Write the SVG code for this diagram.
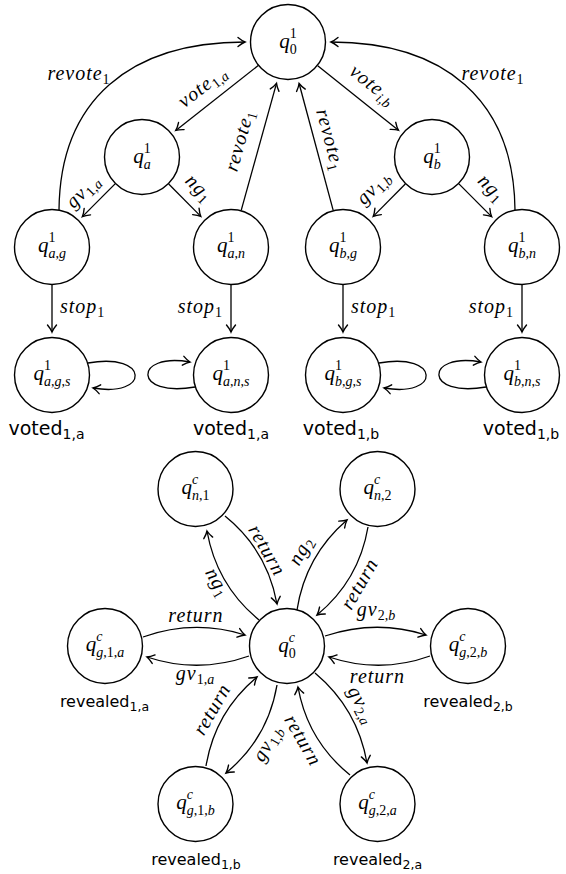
<svg xmlns="http://www.w3.org/2000/svg" width="566" height="874" viewBox="0 0 566 874">
<defs>
<marker id="ar" markerUnits="userSpaceOnUse" viewBox="-9 -6 11 12" refX="0" refY="0" markerWidth="11" markerHeight="12" orient="auto" overflow="visible">
<path d="M-7,-4.5 C-4,-2 -1.5,-0.6 0,0 C-1.5,0.6 -4,2 -7,4.5" fill="none" stroke="#000" stroke-width="1.4" stroke-linecap="round"/>
</marker>
<style>
.n circle{fill:#fff;stroke:#000;stroke-width:1.4}
.e{fill:none;stroke:#000;stroke-width:1.3;marker-end:url(#ar)}
.q{font-family:"Liberation Serif",serif;font-style:italic;font-size:21px;fill:#000}
.sp{font-size:14px;font-style:normal}
.sc{font-size:14px}
.sb{font-size:14px}
.up{font-style:normal}
.m{font-family:"Liberation Serif",serif;font-style:italic;font-size:20px;letter-spacing:1px;fill:#000}
.ms{font-size:14px;letter-spacing:0}
.v{font-family:"DejaVu Sans",sans-serif;font-size:19px;fill:#000}
.r{font-family:"DejaVu Sans",sans-serif;font-size:16px;fill:#000}
.vs{font-size:14px}
.rs{font-size:12.5px}
</style>
</defs>
<rect width="566" height="874" fill="#fff"/>

<g id="edges">
<path class="e" d="M258.2,65.5 L175.8,130.4"/>
<path class="e" d="M115.1,183.9 L82.4,216.6"/>
<path class="e" d="M168.7,184 L200.8,216.4"/>
<path class="e" d="M241.2,210.4 L276.5,83.4"/>
<path class="e" d="M317.7,65.7 L398.4,130.2"/>
<path class="e" d="M405.3,184 L373.2,216.4"/>
<path class="e" d="M458.9,183.9 L491.6,216.6"/>
<path class="e" d="M333.2,210.3 L299.1,83.5"/>
<path class="e" d="M59,210 C60,100 130,42 245,42"/>
<path class="e" d="M515,210 C514,100 444,42 331,42"/>
<path class="e" d="M52,284.5 L52,332"/>
<path class="e" d="M231,284.5 L231,332"/>
<path class="e" d="M343,284.5 L343,332"/>
<path class="e" d="M522,284.5 L522,332"/>
<path class="e" d="M88,363 C150,352 150,398 93,388"/>
<path class="e" d="M195,387 C133,398 133,352 190,362"/>
<path class="e" d="M379,363 C441,352 441,398 384,388"/>
<path class="e" d="M486,387 C424,398 424,352 481,362"/>

<path class="e" d="M143,637 Q194,619 245,635"/>
<path class="e" d="M249,656 Q198,674 147,657"/>
<path class="e" d="M325,636 Q376,619 426,635"/>
<path class="e" d="M430,656 Q380,674 329,657"/>
<path class="e" d="M259,620 Q216.6,585.1 207,531"/>
<path class="e" d="M225,516 Q267.4,550.3 277,604"/>
<path class="e" d="M297,610 Q305.4,555.8 347,520"/>
<path class="e" d="M368,527 Q358.9,580.5 317,615"/>
<path class="e" d="M206,766 Q215,712 257,677"/>
<path class="e" d="M277,685 Q267.9,738.5 226,773"/>
<path class="e" d="M350,775 Q307.6,740.7 298,687"/>
<path class="e" d="M315,673 Q357.4,708.5 367,763"/>
</g>

<g id="edge-labels">
<text class="m" x="78.5" y="80" text-anchor="middle">revote<tspan class="ms up" dy="4">1</tspan></text>
<text class="m" x="492.5" y="80" text-anchor="middle">revote<tspan class="ms up" dy="4">1</tspan></text>
<text class="m" transform="translate(203.5 88.5) rotate(-38)" x="0" y="4" text-anchor="middle">vote<tspan class="ms" dy="4"><tspan class="up">1,</tspan>a</tspan></text>
<text class="m" transform="translate(371 86.5) rotate(38.6)" x="0" y="4" text-anchor="middle">vote<tspan class="ms" dy="4">i<tspan class="up">,</tspan>b</tspan></text>
<text class="m" transform="translate(85 193.5) rotate(-45)" x="0" y="3" text-anchor="middle">gv<tspan class="ms" dy="4"><tspan class="up">1,</tspan>a</tspan></text>
<text class="m" transform="translate(196.5 190) rotate(45)" x="0" y="3" text-anchor="middle">ng<tspan class="ms up" dy="4">1</tspan></text>
<text class="m" transform="translate(241.5 141.5) rotate(-74.5)" x="0" y="4" text-anchor="middle">revote<tspan class="ms up" dy="4">1</tspan></text>
<text class="m" transform="translate(328 140) rotate(75)" x="0" y="4" text-anchor="middle">revote<tspan class="ms up" dy="4">1</tspan></text>
<text class="m" transform="translate(375.5 190) rotate(-45)" x="0" y="3" text-anchor="middle">gv<tspan class="ms" dy="4"><tspan class="up">1,</tspan>b</tspan></text>
<text class="m" transform="translate(489 190) rotate(45)" x="0" y="3" text-anchor="middle">ng<tspan class="ms up" dy="4">1</tspan></text>
<text class="m" x="60" y="313">stop<tspan class="ms up" dy="4">1</tspan></text>
<text class="m" x="222" y="313" text-anchor="end">stop<tspan class="ms up" dy="4">1</tspan></text>
<text class="m" x="351" y="313">stop<tspan class="ms up" dy="4">1</tspan></text>
<text class="m" x="513" y="313" text-anchor="end">stop<tspan class="ms up" dy="4">1</tspan></text>

<text class="m" x="196" y="622" text-anchor="middle">return</text>
<text class="m" x="195" y="680" text-anchor="middle">gv<tspan class="ms" dy="4"><tspan class="up">1,</tspan>a</tspan></text>
<text class="m" x="376" y="616" text-anchor="middle">gv<tspan class="ms" dy="4"><tspan class="up">2,</tspan>b</tspan></text>
<text class="m" x="377.5" y="683" text-anchor="middle">return</text>
<text class="m" transform="translate(214.5 583.5) rotate(60)" x="0" y="3" text-anchor="middle">ng<tspan class="ms up" dy="4">1</tspan></text>
<text class="m" transform="translate(265 551.5) rotate(60)" x="0" y="4" text-anchor="middle">return</text>
<text class="m" transform="translate(303.5 552.5) rotate(-61)" x="0" y="3" text-anchor="middle">ng<tspan class="ms up" dy="4">2</tspan></text>
<text class="m" transform="translate(361.5 585) rotate(-60)" x="0" y="4" text-anchor="middle">return</text>
<text class="m" transform="translate(214 710.5) rotate(-60)" x="0" y="4" text-anchor="middle">return</text>
<text class="m" transform="translate(270 745) rotate(-60)" x="0" y="3" text-anchor="middle">gv<tspan class="ms" dy="4"><tspan class="up">1,</tspan>b</tspan></text>
<text class="m" transform="translate(301 741.5) rotate(60)" x="0" y="4" text-anchor="middle">return</text>
<text class="m" transform="translate(359 706) rotate(62)" x="0" y="3" text-anchor="middle">gv<tspan class="ms" dy="4"><tspan class="up">2,</tspan>a</tspan></text>
</g>

<g id="q0_1" class="n"><circle cx="288" cy="42" r="37.5"/><text class="q" x="288" y="48" text-anchor="middle">q<tspan class="sp" dy="-10">1</tspan><tspan class="sb up" dx="-7" dy="16">0</tspan></text></g>
<g id="qa_1" class="n"><circle cx="142" cy="157" r="37.5"/><text class="q" x="142" y="163" text-anchor="middle">q<tspan class="sp" dy="-10">1</tspan><tspan class="sb" dx="-7" dy="16">a</tspan></text></g>
<g id="qb_1" class="n"><circle cx="432" cy="157" r="37.5"/><text class="q" x="432" y="163" text-anchor="middle">q<tspan class="sp" dy="-10">1</tspan><tspan class="sb" dx="-7" dy="16">b</tspan></text></g>
<g id="qag_1" class="n"><circle cx="52" cy="247" r="37.5"/><text class="q" x="52" y="252" text-anchor="middle">q<tspan class="sp" dy="-10">1</tspan><tspan class="sb" dx="-7" dy="16">a<tspan class="up">,</tspan>g</tspan></text></g>
<g id="qan_1" class="n"><circle cx="231" cy="247" r="37.5"/><text class="q" x="231" y="252" text-anchor="middle">q<tspan class="sp" dy="-10">1</tspan><tspan class="sb" dx="-7" dy="16">a<tspan class="up">,</tspan>n</tspan></text></g>
<g id="qbg_1" class="n"><circle cx="343" cy="247" r="37.5"/><text class="q" x="343" y="252" text-anchor="middle">q<tspan class="sp" dy="-10">1</tspan><tspan class="sb" dx="-7" dy="16">b<tspan class="up">,</tspan>g</tspan></text></g>
<g id="qbn_1" class="n"><circle cx="522" cy="247" r="37.5"/><text class="q" x="522" y="252" text-anchor="middle">q<tspan class="sp" dy="-10">1</tspan><tspan class="sb" dx="-7" dy="16">b<tspan class="up">,</tspan>n</tspan></text></g>
<g id="qags_1" class="n"><circle cx="52" cy="375" r="37.5"/><text class="q" x="52" y="380" text-anchor="middle">q<tspan class="sp" dy="-10">1</tspan><tspan class="sb" dx="-7" dy="16">a<tspan class="up">,</tspan>g<tspan class="up">,</tspan>s</tspan></text><text class="v" x="46.5" y="435" text-anchor="middle">voted<tspan class="vs" dy="4">1,a</tspan></text></g>
<g id="qans_1" class="n"><circle cx="231" cy="375" r="37.5"/><text class="q" x="231" y="380" text-anchor="middle">q<tspan class="sp" dy="-10">1</tspan><tspan class="sb" dx="-7" dy="16">a<tspan class="up">,</tspan>n<tspan class="up">,</tspan>s</tspan></text><text class="v" x="231" y="435" text-anchor="middle">voted<tspan class="vs" dy="4">1,a</tspan></text></g>
<g id="qbgs_1" class="n"><circle cx="343" cy="375" r="37.5"/><text class="q" x="343" y="380" text-anchor="middle">q<tspan class="sp" dy="-10">1</tspan><tspan class="sb" dx="-7" dy="16">b<tspan class="up">,</tspan>g<tspan class="up">,</tspan>s</tspan></text><text class="v" x="341" y="435" text-anchor="middle">voted<tspan class="vs" dy="4">1,b</tspan></text></g>
<g id="qbns_1" class="n"><circle cx="522" cy="375" r="37.5"/><text class="q" x="522" y="380" text-anchor="middle">q<tspan class="sp" dy="-10">1</tspan><tspan class="sb" dx="-7" dy="16">b<tspan class="up">,</tspan>n<tspan class="up">,</tspan>s</tspan></text><text class="v" x="521" y="435" text-anchor="middle">voted<tspan class="vs" dy="4">1,b</tspan></text></g>

<g id="q0_c" class="n"><circle cx="287" cy="646" r="37.5"/><text class="q" x="287" y="652" text-anchor="middle">q<tspan class="sc" dy="-10">c</tspan><tspan class="sb up" dx="-6.2" dy="16">0</tspan></text></g>
<g id="qn1_c" class="n"><circle cx="195.5" cy="489" r="37.5"/><text class="q" x="195.5" y="494" text-anchor="middle">q<tspan class="sc" dy="-10">c</tspan><tspan class="sb" dx="-6.2" dy="16">n<tspan class="up">,1</tspan></tspan></text></g>
<g id="qn2_c" class="n"><circle cx="377.5" cy="489" r="37.5"/><text class="q" x="377.5" y="494" text-anchor="middle">q<tspan class="sc" dy="-10">c</tspan><tspan class="sb" dx="-6.2" dy="16">n<tspan class="up">,2</tspan></tspan></text></g>
<g id="qg1a_c" class="n"><circle cx="105" cy="646" r="37.5"/><text class="q" x="105" y="651" text-anchor="middle">q<tspan class="sc" dy="-10">c</tspan><tspan class="sb" dx="-6.2" dy="16">g<tspan class="up">,1,</tspan>a</tspan></text><text class="r" x="104.5" y="707" text-anchor="middle">revealed<tspan class="rs" dy="4">1,a</tspan></text></g>
<g id="qg2b_c" class="n"><circle cx="468" cy="646" r="37.5"/><text class="q" x="468" y="651" text-anchor="middle">q<tspan class="sc" dy="-10">c</tspan><tspan class="sb" dx="-6.2" dy="16">g<tspan class="up">,2,</tspan>b</tspan></text><text class="r" x="468" y="707" text-anchor="middle">revealed<tspan class="rs" dy="4">2,b</tspan></text></g>
<g id="qg1b_c" class="n"><circle cx="195.5" cy="804" r="37.5"/><text class="q" x="195.5" y="809" text-anchor="middle">q<tspan class="sc" dy="-10">c</tspan><tspan class="sb" dx="-6.2" dy="16">g<tspan class="up">,1,</tspan>b</tspan></text><text class="r" x="196" y="865" text-anchor="middle">revealed<tspan class="rs" dy="4">1,b</tspan></text></g>
<g id="qg2a_c" class="n"><circle cx="377.5" cy="804" r="37.5"/><text class="q" x="377.5" y="809" text-anchor="middle">q<tspan class="sc" dy="-10">c</tspan><tspan class="sb" dx="-6.2" dy="16">g<tspan class="up">,2,</tspan>a</tspan></text><text class="r" x="377.5" y="865" text-anchor="middle">revealed<tspan class="rs" dy="4">2,a</tspan></text></g>
</svg>
